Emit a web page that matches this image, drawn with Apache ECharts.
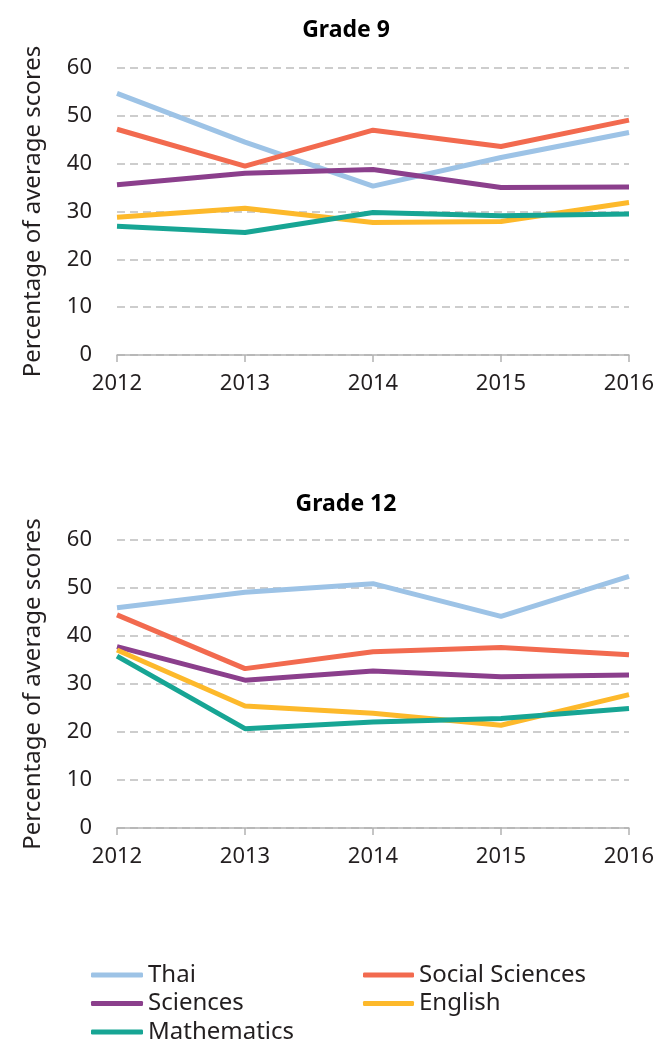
<!DOCTYPE html>
<html>
<head>
<meta charset="utf-8">
<script src="https://cdn.jsdelivr.net/npm/echarts@6/dist/echarts.min.js"></script>
<style>
  html, body { margin: 0; padding: 0; background: #fff; }
  #main { width: 660px; height: 1039px; }
</style>
</head>
<body>
<div id="main"></div>
<script>
// years on the x axis
const years = ['2012', '2013', '2014', '2015', '2016']
const subjects = ['Thai', 'Social Sciences', 'Sciences', 'English', 'Mathematics']
const colors = ['#9dc3e6', '#f26a4f', '#8b3f8c', '#fdb92b', '#17a594']

// Grade 9
const g9Thai = [54.7, 44.5, 35.3, 41.3, 46.5]
const g9Social = [47.2, 39.5, 47.0, 43.6, 49.1]
const g9Sciences = [35.6, 38.0, 38.8, 35.0, 35.1]
const g9English = [28.8, 30.7, 27.7, 27.9, 31.9]
const g9Maths = [26.9, 25.6, 29.8, 29.1, 29.5]

// Grade 12
const g12Thai = [45.9, 49.1, 50.9, 44.1, 52.4]
const g12Social = [44.4, 33.2, 36.7, 37.6, 36.1]
const g12Sciences = [37.8, 30.8, 32.7, 31.5, 31.9]
const g12English = [37.1, 25.4, 23.9, 21.4, 27.8]
const g12Maths = [35.8, 20.7, 22.1, 22.8, 24.9]

const yTicks = [0, 10, 20, 30, 40, 50, 60]

const font = 'Noto Sans'
const textColor = '#231f20'

function xAxis(gridIndex) {
  return {
    type: 'category',
    gridIndex: gridIndex,
    data: years,
    boundaryGap: false,
    axisLine: { lineStyle: { color: '#b3b3b3', width: 1.5 } },
    axisTick: { show: true, length: 7, lineStyle: { color: '#b3b3b3', width: 1.5 } },
    axisLabel: { color: textColor, fontFamily: font, fontSize: 22, margin: 18 }
  }
}

function yAxis(gridIndex) {
  return {
    type: 'value',
    gridIndex: gridIndex,
    min: yTicks[0],
    max: yTicks[yTicks.length - 1],
    interval: 10,
    name: 'Percentage of average scores',
    nameLocation: 'middle',
    nameGap: 72,
    nameTextStyle: { color: textColor, fontFamily: font, fontSize: 24 },
    axisLine: { show: false },
    axisTick: { show: false },
    axisLabel: { color: textColor, fontFamily: font, fontSize: 22, margin: 25 },
    splitLine: { lineStyle: { color: '#bdbdbd', width: 1.5, type: [8, 5] } }
  }
}

function line(name, data, idx) {
  return {
    name: name,
    type: 'line',
    xAxisIndex: idx,
    yAxisIndex: idx,
    data: data,
    symbol: 'none',
    lineStyle: { width: 5 },
    emphasis: { disabled: true }
  }
}

const legendText = { color: textColor, fontFamily: font, fontSize: 24, lineHeight: 24 }

const option = {
  color: colors,
  animation: false,
  title: [
    { text: 'Grade 9', left: 341, top: 14, textAlign: 'center',
      textStyle: { fontFamily: font, fontWeight: 'bold', fontSize: 23, color: '#000' } },
    { text: 'Grade 12', left: 341, top: 488, textAlign: 'center',
      textStyle: { fontFamily: font, fontWeight: 'bold', fontSize: 23, color: '#000' } }
  ],
  legend: [
    {
      data: ['Thai', 'Sciences', 'Mathematics'],
      orient: 'vertical', left: 86, top: 958, height: 120,
      itemWidth: 52, itemHeight: 5, itemGap: 4.5, itemTextGap: 3,
      icon: 'roundRect', textStyle: legendText
    },
    {
      data: ['Social Sciences', 'English'],
      orient: 'vertical', left: 358, top: 958, height: 120,
      itemWidth: 51, itemHeight: 5, itemGap: 4.5, itemTextGap: 3,
      icon: 'roundRect', textStyle: legendText
    }
  ],
  grid: [
    { left: 117, right: 31, top: 68, height: 287 },
    { left: 117, right: 31, top: 540, height: 288 }
  ],
  xAxis: [xAxis(0), xAxis(1)],
  yAxis: [yAxis(0), yAxis(1)],
  series: [
    line(subjects[0], g9Thai, 0),
    line(subjects[1], g9Social, 0),
    line(subjects[2], g9Sciences, 0),
    line(subjects[3], g9English, 0),
    line(subjects[4], g9Maths, 0),
    line(subjects[0], g12Thai, 1),
    line(subjects[1], g12Social, 1),
    line(subjects[2], g12Sciences, 1),
    line(subjects[3], g12English, 1),
    line(subjects[4], g12Maths, 1)
  ]
}

const myChart = echarts.init(document.getElementById('main'))
myChart.setOption(option)
</script>
</body>
</html>
